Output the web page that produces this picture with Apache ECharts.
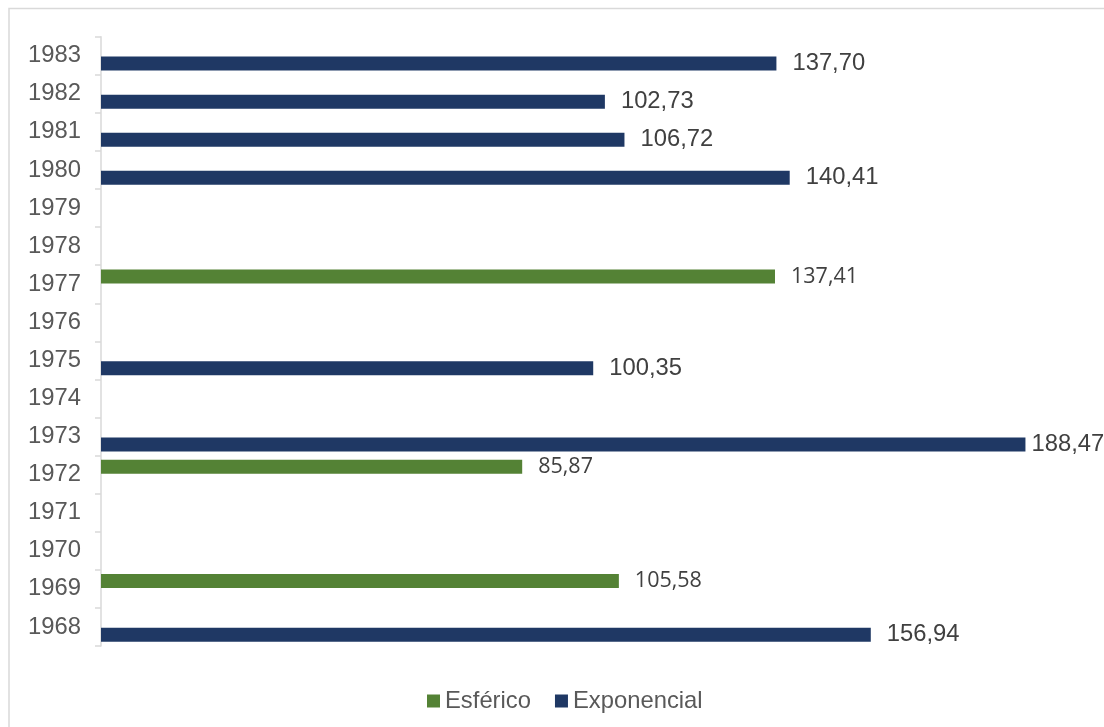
<!DOCTYPE html>
<html>
<head>
<meta charset="utf-8">
<script src="https://cdn.jsdelivr.net/npm/echarts@6/dist/echarts.min.js"></script>
<style>
  html, body { margin: 0; padding: 0; background: #ffffff; }
  #chart { width: 1104px; height: 727px; }
</style>
</head>
<body>
<div id="chart"></div>
<script>
// Years on the vertical axis (bottom to top)
const years = ['1968','1969','1970','1971','1972','1973','1974','1975','1976','1977','1978','1979','1980','1981','1982','1983'];
// Esférico values per year (null = no value)
const esferico = [null, 105.58, null, null, 85.87, null, null, null, null, 137.41, null, null, null, null, null, null];
// Exponencial values per year (null = no value)
const exponencial = [156.94, null, null, null, null, 188.47, null, 100.35, null, null, null, null, 140.41, 106.72, 102.73, 137.70];
const seriesNames = ['Esférico', 'Exponencial'];

const fmt = v => v.toFixed(2).replace('.', ',');

// Long bars get their label pulled in closer so it stays inside the chart
const withLabelFit = arr => arr.map(v => (v != null && v > 180) ? { value: v, label: { distance: 6 } } : v);

const chart = echarts.init(document.getElementById('chart'), null, { renderer: 'canvas' });
chart.setOption({
  animation: false,
  backgroundColor: '#ffffff',
  graphic: [{
    type: 'rect',
    shape: { x: 9, y: 8.5, width: 1200, height: 800 },
    style: { fill: 'none', stroke: '#d9d9d9', lineWidth: 1.5 },
    silent: true,
    z: -1
  }],
  grid: { left: 101, right: 22, top: 36.7, bottom: 81, containLabel: false },
  legend: {
    data: seriesNames,
    left: 422,
    top: 684,
    icon: 'rect',
    itemWidth: 13,
    itemHeight: 13,
    itemGap: 24,
    textStyle: { fontFamily: 'Liberation Sans, Arial, sans-serif', fontSize: 23.8, color: '#595959' }
  },
  xAxis: {
    type: 'value',
    min: 0,
    max: 200,
    show: false,
    splitLine: { show: false }
  },
  yAxis: {
    type: 'category',
    data: years,
    axisLine: { show: true, lineStyle: { color: '#d9d9d9', width: 1.5 } },
    axisTick: { show: true, length: 6, lineStyle: { color: '#d9d9d9', width: 1.5 } },
    axisLabel: {
      margin: 20,
      padding: [7, 0, 0, 0],
      fontFamily: 'Liberation Sans, Arial, sans-serif',
      fontSize: 23.8,
      color: '#595959'
    },
    splitLine: { show: false }
  },
  series: [
    {
      name: seriesNames[0],
      type: 'bar',
      data: withLabelFit(esferico),
      barWidth: 14,
      barGap: '12%',
      itemStyle: { color: '#548235' },
      label: {
        show: true,
        position: 'right',
        distance: 16,
        padding: [4, 0, 0, 0],
        fontFamily: 'Open Sans, sans-serif',
        fontSize: 21.5,
        color: '#404040',
        formatter: p => p.value == null ? '' : fmt(p.value)
      }
    },
    {
      name: seriesNames[1],
      type: 'bar',
      data: withLabelFit(exponencial),
      barWidth: 14,
      barGap: '12%',
      itemStyle: { color: '#1f3864' },
      label: {
        show: true,
        position: 'right',
        distance: 16,
        padding: [5, 0, 0, 0],
        fontFamily: 'Liberation Sans, Arial, sans-serif',
        fontSize: 23.8,
        color: '#404040',
        formatter: p => p.value == null ? '' : fmt(p.value)
      }
    }
  ]
});
</script>
</body>
</html>
